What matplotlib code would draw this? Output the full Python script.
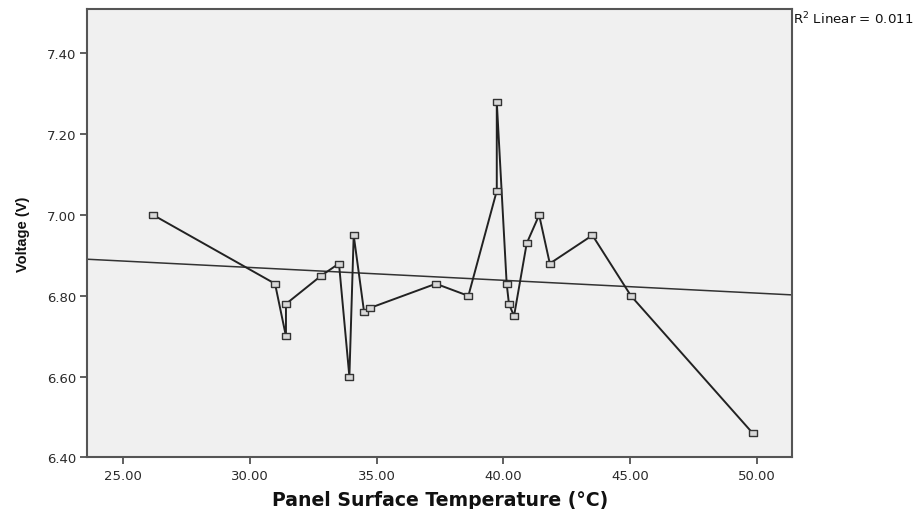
import numpy as np
import matplotlib
matplotlib.use("Agg")
import matplotlib.pyplot as plt

temperature = [26.2, 31.0, 31.43, 31.43, 32.82, 33.52, 33.93, 34.10, 34.51, 34.74,
               37.34, 38.62, 39.74, 39.74, 40.13, 40.22, 40.42, 40.92, 41.41, 41.83,
               43.51, 45.03, 49.83]
voltage = [7.00, 6.83, 6.70, 6.78, 6.85, 6.88, 6.60, 6.95, 6.76, 6.77,
           6.83, 6.80, 7.06, 7.28, 6.83, 6.78, 6.75, 6.93, 7.00, 6.88,
           6.95, 6.80, 6.46]
x_ticks = [25, 30, 35, 40, 45, 50]
y_ticks = [6.40, 6.60, 6.80, 7.00, 7.20, 7.40]
r2_label = "R$^2$ Linear = 0.011"

plt.rcParams['font.family'] = ['DejaVu Sans']
plt.rcParams['mathtext.fontset'] = 'dejavusans'

fig = plt.figure(figsize=(9.21, 5.10), dpi=100)
ax = fig.add_axes([0.0948, 0.101, 0.7655, 0.8794])
ax.set_facecolor('#f0f0f0')

x = np.array(temperature)
y = np.array(voltage)
slope, intercept = np.polyfit(x, y, 1)
xl = np.array([23.60, 51.39])
ax.plot(xl, intercept + slope * xl, color='#333333', lw=1.1, zorder=2)

rect = [(-1, -0.6), (1, -0.6), (1, 0.6), (-1, 0.6), (-1, -0.6)]
ax.plot(x, y, color='#222222', lw=1.4, marker=rect, ms=6.2, mfc='#d8d8d8',
        mec='#333333', mew=1.0, zorder=3)

ax.set_xlim(23.60, 51.39)
ax.set_ylim(6.40, 7.51)
ax.set_xticks(x_ticks)
ax.set_xticklabels([f"{v:.2f}" for v in x_ticks])
ax.set_yticks(y_ticks)
ax.set_yticklabels([f"{v:.2f}" for v in y_ticks])
ax.tick_params(axis='both', direction='out', length=5, width=1.2, color='#444444',
               labelsize=9.5, labelcolor='#2a2a2a', pad=3)
for s in ax.spines.values():
    s.set_color('#555555')
    s.set_linewidth(1.5)

ax.set_xlabel("Panel Surface Temperature (°C)", fontsize=13.6, fontweight='bold',
              color='#111111', labelpad=6)
ax.set_ylabel("Voltage (V)", fontsize=10.5, fontweight='bold', color='#111111',
              family=['Liberation Sans', 'DejaVu Sans'], labelpad=12)
fig.text(0.861, 0.9637, r2_label, fontsize=9.6, color='#111111', ha='left', va='center')

fig.savefig("out.png", dpi=100)
